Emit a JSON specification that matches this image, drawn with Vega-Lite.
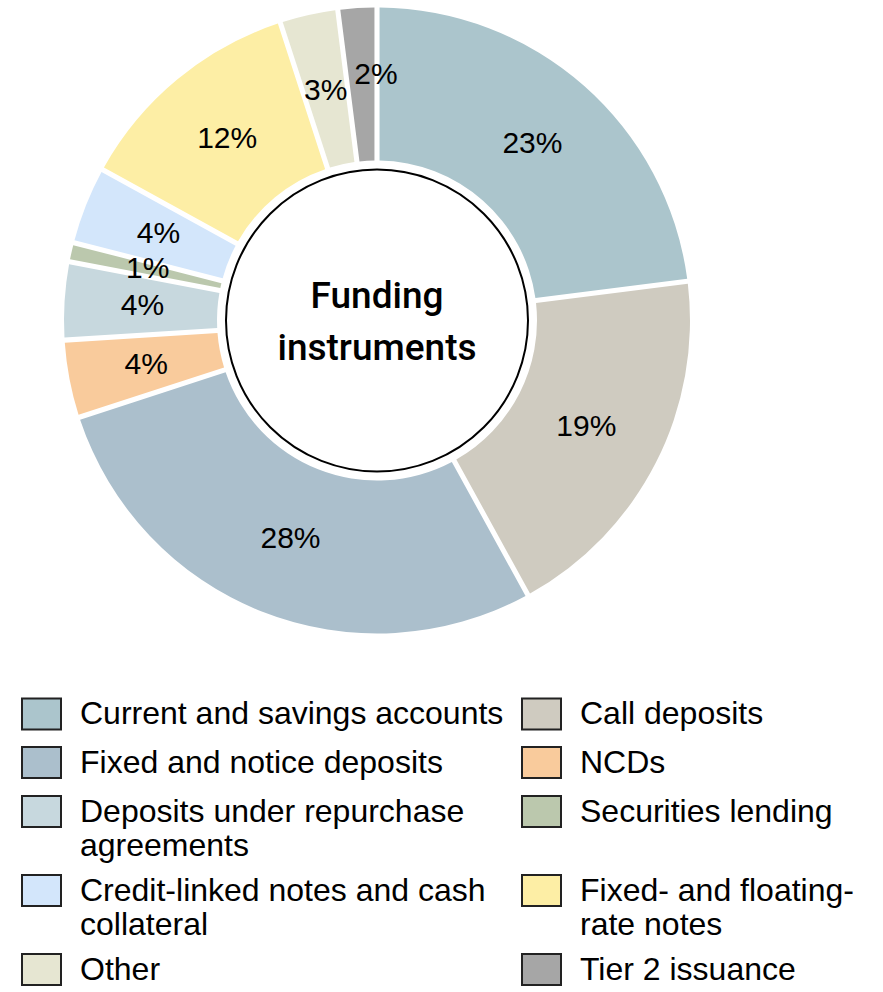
{
  "$schema": "https://vega.github.io/schema/vega-lite/v6.json",
  "width": 754,
  "height": 641,
  "padding": 0,
  "background": "white",
  "config": {"view": {"stroke": null}},
  "data": {
    "values": [
      {"category": "Current and savings accounts", "value": 23, "order": 1, "label": "23%"},
      {"category": "Call deposits", "value": 19, "order": 2, "label": "19%"},
      {"category": "Fixed and notice deposits", "value": 28, "order": 3, "label": "28%"},
      {"category": "NCDs", "value": 4, "order": 4, "label": "4%"},
      {"category": "Deposits under repurchase agreements", "value": 4, "order": 5, "label": "4%"},
      {"category": "Securities lending", "value": 1, "order": 6, "label": "1%"},
      {"category": "Credit-linked notes and cash collateral", "value": 4, "order": 7, "label": "4%"},
      {"category": "Fixed- and floating-rate notes", "value": 12, "order": 8, "label": "12%"},
      {"category": "Other", "value": 3, "order": 9, "label": "3%"},
      {"category": "Tier 2 issuance", "value": 2, "order": 10, "label": "2%"}
    ]
  },
  "encoding": {
    "theta": {"field": "value", "type": "quantitative", "stack": true},
    "order": {"field": "order", "type": "quantitative"}
  },
  "layer": [
    {
      "mark": {"type": "arc", "outerRadius": 313, "innerRadius": 160, "padAngle": 0.0145},
      "encoding": {
        "color": {
          "field": "category",
          "type": "nominal",
          "scale": {
            "domain": ["Current and savings accounts", "Fixed and notice deposits", "Deposits under repurchase agreements", "Credit-linked notes and cash collateral", "Other", "Call deposits", "NCDs", "Securities lending", "Fixed- and floating-rate notes", "Tier 2 issuance"],
            "range": ["#abc5cc", "#abbfcc", "#c7d8de", "#d3e6fb", "#e6e6d2", "#cfcbc0", "#f9cb9c", "#bbc8ad", "#fdeea5", "#a6a6a6"]
          },
          "legend": {
            "orient": "none",
            "legendX": 21,
            "legendY": 693,
            "columns": 2,
            "title": null,
            "padding": 0,
            "symbolType": "M-1,-0.795H1V0.795H-1Z",
            "symbolSize": 1521,
            "symbolStrokeColor": "#222222",
            "symbolStrokeWidth": 2,
            "symbolOpacity": 1,
            "labelFont": "Liberation Sans",
            "labelFontSize": 32,
            "labelColor": "black",
            "labelOffset": 18,
            "labelLimit": 0,
            "columnPadding": 14,
            "rowPadding": 8,
            "labelExpr": "datum.label == 'Deposits under repurchase agreements' ? ['Deposits under repurchase', 'agreements'] : datum.label == 'Credit-linked notes and cash collateral' ? ['Credit-linked notes and cash', 'collateral'] : datum.label == 'Fixed- and floating-rate notes' ? ['Fixed- and floating-', 'rate notes'] : datum.label"
          }
        }
      }
    },
    {
      "mark": {"type": "text", "radius": 235, "font": "Liberation Sans", "fontSize": 30, "color": "black"},
      "encoding": {
        "text": {"field": "label", "type": "nominal"},
        "opacity": {"condition": {"test": "datum.order == 10", "value": 0}, "value": 1}
      }
    },
    {
      "mark": {"type": "text", "radius": 240, "dx": 14, "dy": -6, "font": "Liberation Sans", "fontSize": 30, "color": "black"},
      "encoding": {
        "text": {"field": "label", "type": "nominal"},
        "opacity": {"condition": {"test": "datum.order == 10", "value": 1}, "value": 0}
      }
    },
    {
      "data": {"values": [{"name": "center"}]},
      "mark": {"type": "arc", "theta": 0, "theta2": 6.2832, "outerRadius": 151, "innerRadius": 0, "fill": "white", "stroke": "black", "strokeWidth": 2},
      "encoding": {"theta": null, "order": null}
    },
    {
      "data": {"values": [{"name": "center"}]},
      "mark": {"type": "text", "text": ["Funding", "instruments"], "font": "Roboto", "fontWeight": 500, "fontSize": 37, "lineHeight": 52, "dy": -24, "color": "black", "align": "center", "baseline": "middle"},
      "encoding": {"theta": null, "order": null}
    }
  ]
}
